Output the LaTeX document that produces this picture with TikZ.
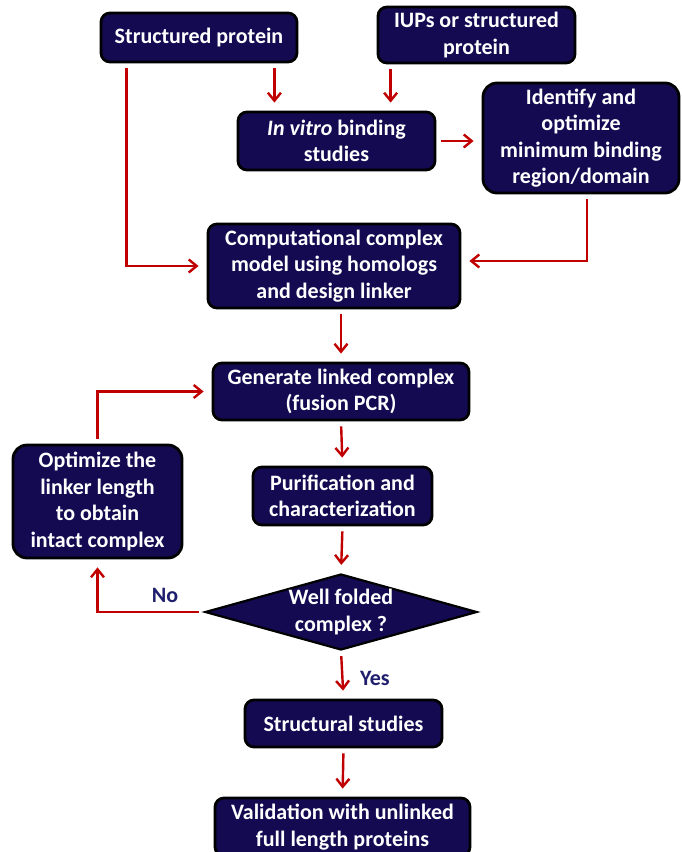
\documentclass[tikz,border=0pt]{standalone}
\usepackage{fontspec}
\setmainfont{Carlito}
\usetikzlibrary{shapes.geometric,arrows.meta}
\definecolor{boxfill}{RGB}{20,10,82}
\definecolor{arrowred}{RGB}{192,0,0}
\definecolor{labelblue}{RGB}{31,31,110}

\begin{document}
\begin{tikzpicture}[x=1pt,y=-1pt,
  stepbox/.style={draw=black,line width=2.8pt,fill=boxfill,rounded corners=9pt,
    text=white,font=\bfseries\fontsize{22}{26.5}\selectfont,align=center,inner sep=0pt},
  decision/.style={diamond,aspect=3.6,draw=black,line width=2.2pt,fill=boxfill,
    text=white,font=\bfseries\fontsize{22}{26.5}\selectfont,align=center,inner sep=0pt},
  flow/.style={draw=arrowred,line width=2.4pt,-{Straight Barb[length=8pt,width=13pt]},
    shorten <=5pt,shorten >=8pt},
  answer/.style={text=labelblue,font=\bfseries\fontsize{22}{26.5}\selectfont}]
\useasboundingbox (0,0) rectangle (681,852);
% boxes
\node[stepbox,minimum width=196pt,minimum height=49pt] (sp) at (199,37.5) {Structured protein};
\node[stepbox,minimum width=197pt,minimum height=56pt] (iup) at (476.5,35) {IUPs or structured\\protein};
\node[stepbox,minimum width=197pt,minimum height=58pt] (ivb) at (336.5,141) {\textit{In vitro} binding\\studies};
\node[stepbox,minimum width=196pt,minimum height=110pt,rounded corners=14pt] (idf) at (581,138) {Identify and\\optimize\\minimum binding\\region/domain};
\node[stepbox,minimum width=252pt,minimum height=84pt] (cmp) at (334,266) {Computational complex\\model using homologs\\and design linker};
\node[stepbox,minimum width=256pt,minimum height=57pt] (gen) at (341,391.5) {Generate linked complex\\(fusion PCR)};
\node[stepbox,minimum width=179pt,minimum height=58pt] (pur) at (342.5,496) {Purification and\\characterization};
\node[decision,minimum width=272pt,minimum height=76pt] (dia) at (341,612) {Well folded\\complex ?};
\node[stepbox,minimum width=169pt,minimum height=113pt,rounded corners=14pt] (opt) at (97.5,501.5) {Optimize the\\linker length\\to obtain\\intact complex};
\node[stepbox,minimum width=197pt,minimum height=47pt] (str) at (343.5,723.5) {Structural studies};
\node[stepbox,minimum width=255pt,minimum height=58pt] (val) at (342.5,827) {Validation with unlinked\\full length proteins};
% labels
\node[answer] (no) at (165,595) {No};
\node[answer] (yes) at (375,678) {Yes};
% connector ends
\coordinate (spa) at ([xshift=-24pt]sp.south east);
\coordinate (spl) at ([xshift=27pt]sp.south west);
\coordinate (iupa) at ([xshift=14pt]iup.south west);
\coordinate (idfa) at ([xshift=6pt]idf.south);
\coordinate (cmpr) at ([yshift=5pt]cmp.east);
% arrows
\draw[flow] (spa) -- (spa |- ivb.north);
\draw[flow] (iupa) -- (iupa |- ivb.north);
\draw[flow] (spl) |- (cmp.west);
\draw[flow] (ivb.east) -- (ivb.east -| idf.west);
\draw[flow] (idfa) |- (cmpr);
\draw[flow] (gen.north |- cmp.south) -- (gen.north);
\draw[flow] (gen.south) -- (pur.north);
\draw[flow] (pur.south) -- (dia.north);
\draw[flow] (dia.west) -| (opt.south);
\draw[flow] (opt.north) |- (gen.west);
\draw[flow] (dia.south) -- (str.north);
\draw[flow] (str.south) -- (val.north);
\end{tikzpicture}
\end{document}
